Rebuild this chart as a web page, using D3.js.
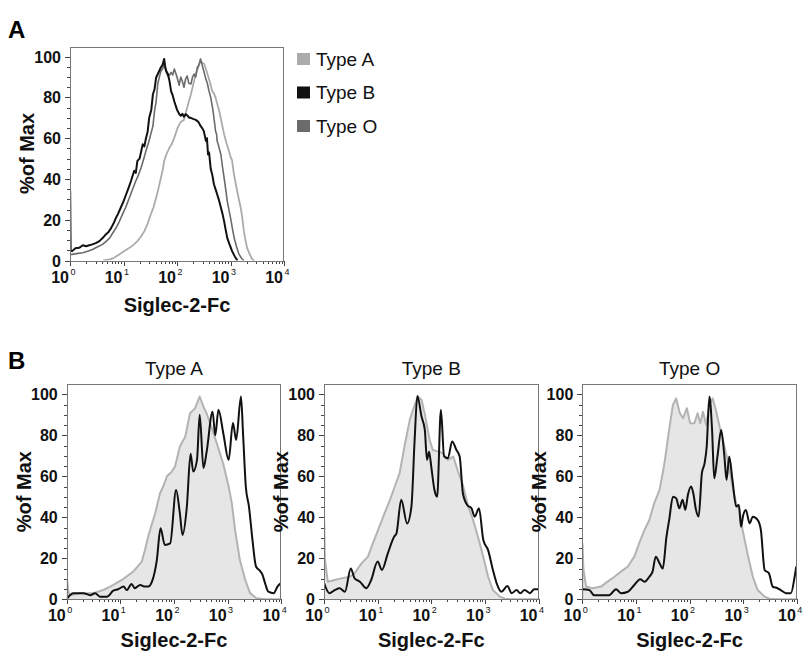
<!DOCTYPE html>
<html lang="en">
<head>
<meta charset="utf-8">
<title>Siglec-2-Fc binding by blood type</title>
<style>
  body { margin: 0; background: white; }
  svg { display: block; font-family: "Liberation Sans", Arial, Helvetica, sans-serif; }
  .tick line { stroke: #444; shape-rendering: crispEdges; }
  .frame { fill: none; stroke: #777; stroke-width: 1; shape-rendering: crispEdges; }
  .ylab, .xlab { font-weight: bold; font-size: 16px; fill: #111; }
  .sup { font-size: 9px; fill: #111; }
  .axtitle { font-weight: bold; font-size: 20px; fill: #111; }
  .ptitle { font-size: 19px; fill: #111; }
  .letter { font-weight: bold; font-size: 24px; fill: #000; }
</style>
</head>
<body>
<script src="https://cdnjs.cloudflare.com/ajax/libs/d3/7.8.5/d3.min.js"></script>
<script>

// axis values
var decades = [0, 1, 2, 3, 4];            // 10^0 .. 10^4
var yTicks = [0, 20, 40, 60, 80, 100];
var legendNames = ["Type A", "Type B", "Type O"];
var legendColors = ["#ababab", "#111111", "#6b6b6b"];
var panelTitles = ["Type A", "Type B", "Type O"];

// histograms: [log10(Siglec-2-Fc), % of max]
// panel A
var aTypeA = [[0.62,0],[0.74,0.5],[0.8,1],[0.86,2],[0.92,3],[0.98,4],[1.04,5],[1.11,6.2],[1.18,7.5],[1.26,9.5],[1.32,11.5],[1.39,14.4],[1.45,18],[1.51,22.6],[1.56,26],[1.61,30.8],[1.66,36],[1.7,40.7],[1.73,44],[1.76,48.9],[1.8,52],[1.86,55.4],[1.9,57],[1.95,60.3],[2.01,65],[2.07,68],[2.13,69],[2.19,75],[2.26,81.6],[2.3,86],[2.35,91.5],[2.4,95],[2.44,98],[2.47,97],[2.51,96.4],[2.54,94],[2.57,91.5],[2.61,88],[2.66,83],[2.69,82],[2.72,80],[2.75,77],[2.79,73.4],[2.84,67],[2.88,62],[2.92,58],[2.97,53.8],[3.0,51],[3.03,49],[3.06,43],[3.1,37.4],[3.14,32],[3.19,26],[3.22,21],[3.25,14.4],[3.28,10],[3.31,6.2],[3.36,3],[3.41,0.5],[3.45,0]];
var aTypeO = [[0,3],[0.04,3],[0.15,3.5],[0.24,3.8],[0.33,4.5],[0.42,5.4],[0.5,6.5],[0.61,7.9],[0.68,9.5],[0.74,11],[0.8,13.5],[0.86,16],[0.92,19],[0.98,22.6],[1.04,26],[1.11,30.8],[1.17,35],[1.23,39],[1.28,42],[1.33,45.6],[1.38,50],[1.42,53.8],[1.47,58],[1.51,62],[1.55,66],[1.58,73.4],[1.61,78],[1.64,86.6],[1.67,90],[1.7,93],[1.73,94],[1.76,96.4],[1.79,93],[1.83,90.6],[1.86,91],[1.89,92.3],[1.92,91],[1.95,94],[2.0,90],[2.04,86],[2.07,90],[2.1,88],[2.13,85],[2.16,89],[2.19,90.6],[2.22,87],[2.26,86.6],[2.29,90],[2.32,91.5],[2.35,90],[2.38,94.8],[2.41,96],[2.44,98.9],[2.47,96],[2.5,93],[2.54,89],[2.57,86.6],[2.6,83],[2.63,80],[2.67,74],[2.7,68],[2.72,63.6],[2.74,62],[2.75,58.7],[2.78,56],[2.82,52],[2.85,46],[2.88,40.7],[2.91,35],[2.94,29],[2.97,25],[3.0,21],[3.04,15],[3.07,11],[3.11,7],[3.16,3],[3.21,1],[3.25,0]];
var aTypeB = [[0,0],[0.003,34],[0.012,5],[0.04,4.6],[0.1,6],[0.17,6.2],[0.24,7.5],[0.3,7],[0.36,7.5],[0.42,7.9],[0.48,8.5],[0.55,9.5],[0.61,11],[0.67,12.8],[0.72,14],[0.77,16],[0.82,18.5],[0.86,21],[0.9,23],[0.95,26],[1.0,29],[1.05,32.5],[1.1,36],[1.14,39],[1.2,44],[1.23,43],[1.26,48.9],[1.3,50],[1.36,57],[1.39,56],[1.42,60],[1.45,63],[1.48,70],[1.52,74],[1.55,81.6],[1.58,84],[1.61,89.8],[1.65,92],[1.7,94.8],[1.73,96],[1.76,98.9],[1.78,95],[1.8,93],[1.83,91.5],[1.86,88],[1.89,83],[1.92,81],[1.95,78],[2.0,74],[2.04,72],[2.07,71],[2.1,72],[2.13,70.5],[2.16,71.8],[2.2,71],[2.23,70],[2.26,70],[2.3,69.5],[2.35,69],[2.4,68],[2.44,66],[2.47,65],[2.5,63.6],[2.54,58.7],[2.56,60],[2.58,52],[2.6,53],[2.63,45],[2.66,42],[2.69,37.4],[2.72,35],[2.75,32.5],[2.78,30],[2.82,26],[2.85,23],[2.88,19.3],[2.91,15],[2.94,11],[2.98,8],[3.03,4.6],[3.08,2],[3.13,0]];

// panel B, filled grey = reference, black = sample
var bAGrey = [[0,0],[0.01,9],[0.03,4],[0.06,2],[0.25,3],[0.5,3],[0.68,4.5],[0.87,7],[1.06,10],[1.24,13.5],[1.4,18.4],[1.46,24],[1.52,30.6],[1.58,36],[1.65,42],[1.74,51.7],[1.8,55],[1.87,60],[1.95,62],[2.02,64.7],[2.11,74.5],[2.16,77],[2.21,79.3],[2.3,90.7],[2.39,93],[2.48,98.9],[2.55,94],[2.61,90.7],[2.7,84],[2.8,76],[2.92,66],[3.02,55],[3.08,46.8],[3.14,33.8],[3.23,19],[3.33,9.4],[3.42,3],[3.54,0.5],[3.7,0],[4,0]];
var bABlack = [[0.01,0.5],[0.12,3],[0.31,3],[0.44,2],[0.53,3],[0.62,1.3],[0.75,1.3],[0.87,4.2],[0.96,4.9],[1.06,6.2],[1.12,4.5],[1.21,7.5],[1.27,5.4],[1.37,7],[1.46,6.2],[1.52,6.2],[1.59,8.6],[1.68,19],[1.75,34.6],[1.83,26.5],[1.93,27.3],[2.04,53.3],[2.11,42],[2.16,31.4],[2.24,45],[2.31,71],[2.36,62.3],[2.43,68],[2.48,90],[2.55,64],[2.61,72],[2.72,91.5],[2.77,80],[2.83,92.4],[2.92,81],[3.02,68],[3.1,86],[3.16,77.7],[3.25,98.9],[3.29,80],[3.34,55],[3.4,45],[3.46,30],[3.53,16],[3.6,14],[3.65,12],[3.7,7.8],[3.76,3.7],[3.86,3],[3.93,6.2],[3.99,7.8]];
var bBGrey = [[0,0],[0.005,38],[0.015,20],[0.07,8.6],[0.2,9.4],[0.32,10.2],[0.48,11],[0.57,12.7],[0.7,17.5],[0.82,20.8],[0.91,27.3],[1.01,33.8],[1.13,42],[1.23,48.5],[1.32,55],[1.41,61.5],[1.5,74.5],[1.6,87.5],[1.68,94],[1.75,98.9],[1.82,97.2],[1.89,89],[1.97,77.7],[2.03,72.8],[2.13,72],[2.22,71.2],[2.31,68],[2.41,69.6],[2.5,62.3],[2.59,55.8],[2.69,45.2],[2.78,38.7],[2.87,30.6],[2.97,20.8],[3.06,11],[3.15,4.5],[3.28,1.3],[3.37,0.3],[3.5,0],[4,0]];
var bBBlack = [[0,8],[0.1,3],[0.2,4.5],[0.29,5.4],[0.39,3.7],[0.5,15],[0.57,10.2],[0.67,8.6],[0.79,5.4],[0.88,9.4],[1.0,18.4],[1.08,14.3],[1.19,22.4],[1.31,30.6],[1.35,32],[1.44,48.5],[1.55,37],[1.63,45.2],[1.69,77.7],[1.74,99.2],[1.82,89],[1.88,82.6],[1.92,68],[1.96,72],[2.0,64.7],[2.06,53.3],[2.11,50],[2.18,92.4],[2.24,69.6],[2.31,68.8],[2.39,77],[2.47,72.8],[2.53,69.6],[2.59,51.7],[2.67,46],[2.75,44.4],[2.81,40.3],[2.89,44.4],[2.97,29],[3.06,24],[3.15,14.3],[3.22,7.8],[3.31,3.7],[3.42,6.5],[3.5,3],[3.59,4.5],[3.66,3],[3.74,4.5],[3.84,3],[3.92,4.9],[4.0,4.9]];
var bOGrey = [[0,0],[0.005,27],[0.02,15],[0.07,6.2],[0.19,5.4],[0.35,6.2],[0.47,8.6],[0.6,11],[0.72,13.5],[0.85,16],[0.97,20.8],[1.06,27.3],[1.16,33.8],[1.25,38.7],[1.34,46.8],[1.44,53.3],[1.51,63],[1.55,69.6],[1.61,81],[1.69,94.8],[1.75,98],[1.78,94.8],[1.82,90.7],[1.88,88.3],[1.95,93.2],[2.01,85.9],[2.09,85.9],[2.15,90.7],[2.2,85.9],[2.25,91.5],[2.31,85],[2.37,94.8],[2.43,98],[2.49,92.4],[2.56,84.2],[2.65,74.5],[2.74,64.7],[2.8,55],[2.87,46.8],[2.93,43.6],[2.99,33.8],[3.08,22.4],[3.18,11],[3.27,4.5],[3.4,1.3],[3.49,0.3],[3.6,0],[4,0]];
var bOBlack = [[0.0,4.9],[0.13,4.5],[0.22,2],[0.38,2],[0.5,2],[0.63,4.9],[0.72,3],[0.85,3.7],[0.97,7],[1.08,9.8],[1.16,8.6],[1.25,11],[1.31,13.5],[1.37,20.8],[1.44,17.6],[1.5,15],[1.57,30.6],[1.62,38.7],[1.69,50],[1.75,49.3],[1.81,44.4],[1.87,48.5],[1.92,43.6],[1.97,51],[2.03,55],[2.07,51.7],[2.12,43.6],[2.17,40.3],[2.23,61.5],[2.28,66.3],[2.32,74.5],[2.37,98.9],[2.42,82.6],[2.46,59],[2.52,69.6],[2.59,82.6],[2.65,69.6],[2.69,58.2],[2.74,69.6],[2.8,58.2],[2.87,45.2],[2.92,46],[2.96,35.4],[3.0,41],[3.05,43.6],[3.12,37],[3.18,40.3],[3.27,38.7],[3.33,33.8],[3.4,14.3],[3.48,12.7],[3.55,6.2],[3.64,5.4],[3.7,4.5],[3.8,3],[3.89,3],[3.96,11],[3.99,16]];


var svg = d3.select("body").append("svg")
    .attr("width", 807)
    .attr("height", 655);

var clipCount = 0;

// draws frame, axes and labels; returns scales + group
function drawPanel(left, top, w, h, titleDy) {
  var x = d3.scaleLog().domain([1, 10000]).range([0, w]);
  var y = d3.scaleLinear().domain([0, 105]).range([h, 0]);

  var g = svg.append("g").attr("transform", "translate(" + left + "," + top + ")");

  var id = "clip" + (clipCount++);
  g.append("clipPath").attr("id", id)
    .append("rect").attr("width", w).attr("height", h);

  var plot = g.append("g").attr("clip-path", "url(#" + id + ")");

  // y ticks (major + minor every 5)
  g.append("g")
    .call(d3.axisLeft(y).tickValues(d3.range(0, 105, 5)).tickSize(3).tickFormat(""))
    .call(function(s) { s.select(".domain").remove(); });
  g.append("g")
    .call(d3.axisLeft(y).tickValues(yTicks).tickSize(5).tickFormat(""))
    .call(function(s) { s.select(".domain").remove(); });

  // x ticks (decades + 2..9)
  var minor = [];
  decades.slice(0, -1).forEach(function(d) {
    for (var k = 2; k < 10; k++) minor.push(k * Math.pow(10, d));
  });
  g.append("g").attr("transform", "translate(0," + h + ")")
    .call(d3.axisBottom(x).tickValues(minor).tickSize(3).tickFormat(""))
    .call(function(s) { s.select(".domain").remove(); });
  g.append("g").attr("transform", "translate(0," + h + ")")
    .call(d3.axisBottom(x).tickValues(decades.map(function(d) { return Math.pow(10, d); })).tickSize(5).tickFormat(""))
    .call(function(s) { s.select(".domain").remove(); });

  // tick labels
  g.selectAll("text.ylab").data(yTicks).enter().append("text")
    .attr("class", "ylab")
    .attr("text-anchor", "end")
    .attr("x", -9)
    .attr("y", function(d) { return y(d) + 6; })
    .text(function(d) { return d; });

  g.selectAll("text.xlab").data(decades).enter().append("text")
    .attr("class", "xlab")
    .attr("text-anchor", "end")
    .attr("x", function(d) { return x(Math.pow(10, d)) - 1; })
    .attr("y", h + 22)
    .text("10");
  g.selectAll("text.sup").data(decades).enter().append("text")
    .attr("class", "sup")
    .attr("x", function(d) { return x(Math.pow(10, d)) + 0.5; })
    .attr("y", h + 14)
    .text(function(d) { return d; });

  // axis titles
  g.append("text")
    .attr("class", "axtitle")
    .attr("text-anchor", "middle")
    .attr("x", w / 2)
    .attr("y", h + titleDy)
    .text("Siglec-2-Fc");
  g.append("text")
    .attr("class", "axtitle")
    .attr("text-anchor", "middle")
    .attr("transform", "translate(-36," + (h / 2) + ") rotate(-90)")
    .text("%of Max");

  return { g: g, plot: plot, x: x, y: y, w: w, h: h };
}

function lineGen(p, curve) {
  return d3.line()
    .x(function(d) { return p.x(Math.pow(10, d[0])); })
    .y(function(d) { return p.y(d[1]); })
    .curve(curve || d3.curveLinear);
}

function frame(p) {
  p.g.append("rect").attr("class", "frame")
    .attr("x", 0.5).attr("y", 0.5)
    .attr("width", p.w - 1).attr("height", p.h);
}

// ---- panel A ----
var pA = drawPanel(70, 46.5, 214, 214, 51);

[[aTypeA, legendColors[0], 1.8], [aTypeO, legendColors[2], 1.6], [aTypeB, legendColors[1], 2]]
  .forEach(function(s) {
    pA.plot.append("path")
      .attr("d", lineGen(pA)(s[0]))
      .attr("fill", "none")
      .attr("stroke", s[1])
      .attr("stroke-width", s[2])
      .attr("stroke-linejoin", "round");
  });
frame(pA);

var legend = svg.append("g");
legendNames.forEach(function(name, i) {
  legend.append("rect")
    .attr("x", 297).attr("y", 53 + i * 33.5)
    .attr("width", 13).attr("height", 12)
    .attr("fill", legendColors[i]);
  legend.append("text")
    .attr("x", 316).attr("y", 65.5 + i * 33.5)
    .style("font-size", "19px")
    .style("fill", "#111")
    .text(name);
});

svg.append("text").attr("class", "letter").attr("x", 8).attr("y", 38).text("A");

// ---- panel B ----
var bLefts = [66.7, 324, 582.3];
var bSeries = [[bAGrey, bABlack], [bBGrey, bBBlack], [bOGrey, bOBlack]];

bSeries.forEach(function(s, i) {
  var p = drawPanel(bLefts[i], 384, 214.5, 215.3, 47.5);

  var area = d3.area()
    .x(function(d) { return p.x(Math.pow(10, d[0])); })
    .y0(p.h)
    .y1(function(d) { return p.y(d[1]); });

  p.plot.append("path")
    .attr("d", area(s[0]))
    .attr("fill", "#e6e6e6");
  p.plot.append("path")
    .attr("d", lineGen(p)(s[0]))
    .attr("fill", "none")
    .attr("stroke", "#b3b3b3")
    .attr("stroke-width", 2)
    .attr("stroke-linejoin", "round");
  p.plot.append("path")
    .attr("d", lineGen(p, d3.curveMonotoneX)(s[1]))
    .attr("fill", "none")
    .attr("stroke", "#111")
    .attr("stroke-width", 2)
    .attr("stroke-linejoin", "round");
  frame(p);

  p.g.append("text")
    .attr("class", "ptitle")
    .attr("text-anchor", "middle")
    .attr("x", p.w / 2)
    .attr("y", -9)
    .text(panelTitles[i]);
});

svg.append("text").attr("class", "letter").attr("x", 8).attr("y", 369).text("B");

</script>
</body>
</html>
